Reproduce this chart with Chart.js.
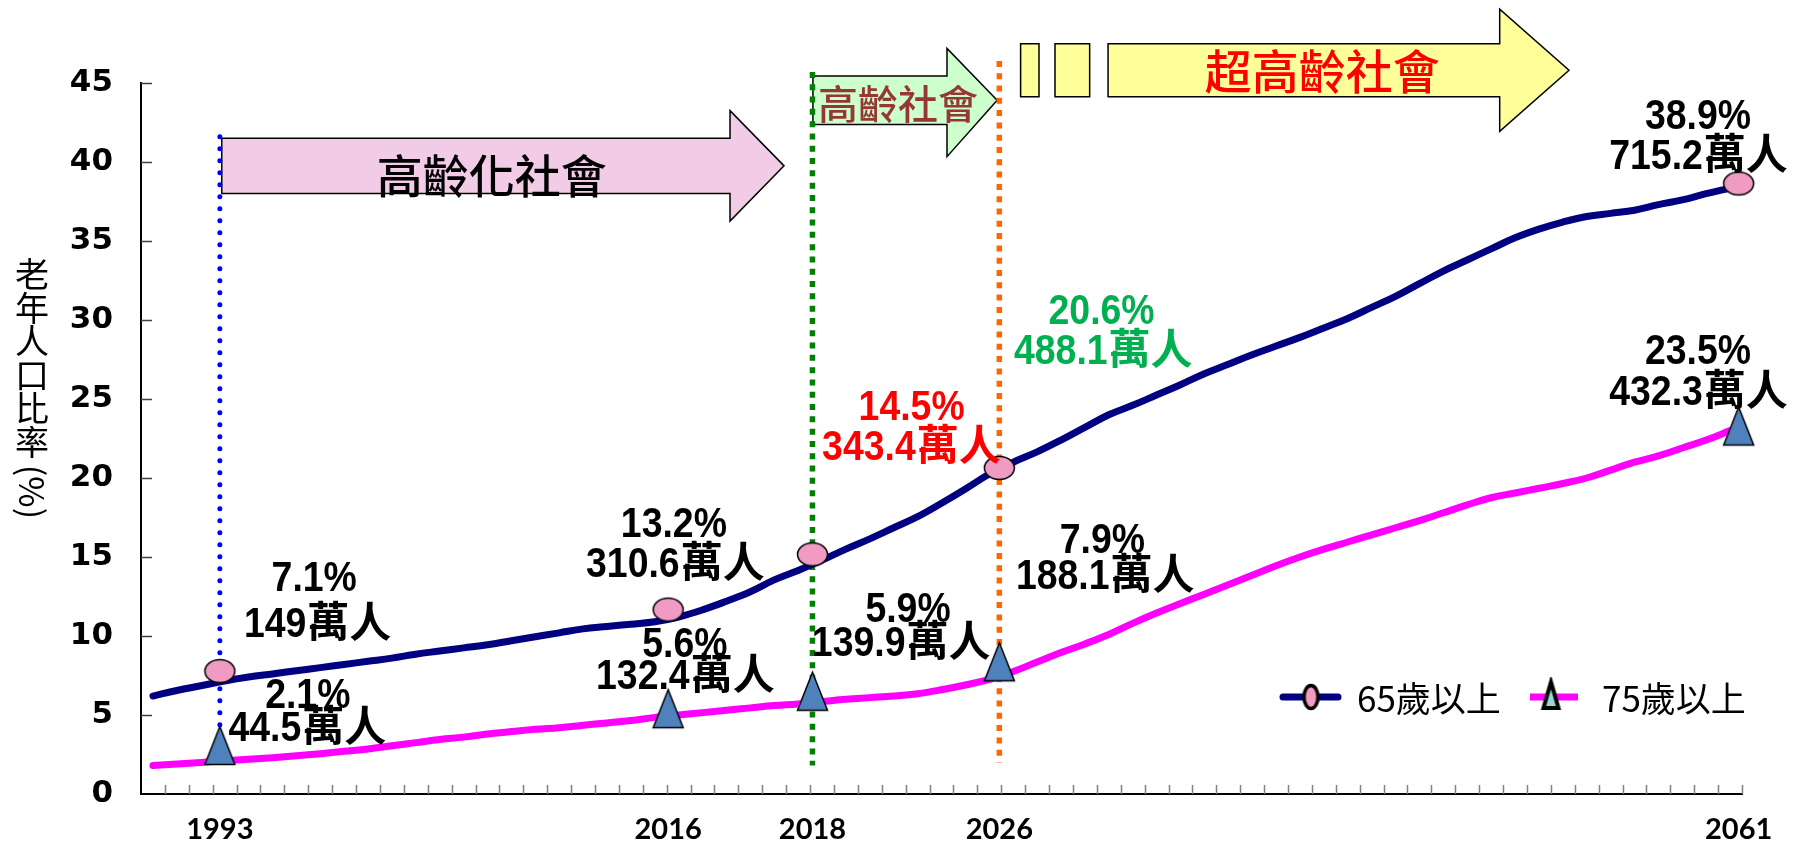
<!DOCTYPE html>
<html lang="zh-Hant">
<head>
<meta charset="utf-8">
<title>老年人口比率</title>
<script src="https://cdn.jsdelivr.net/npm/chart.js@4.4.1/dist/chart.umd.min.js"></script>
<style>
  html, body { margin: 0; padding: 0; background: #fff; }
  #wrap { width: 1806px; height: 844px; }
</style>
</head>
<body>
<div id="wrap"><canvas id="agingChart" width="1806" height="844"></canvas></div>
<script>
// 老年人口占總人口比率(%)，每個刻度格一個值
var share65 = [
  6.2, 6.55, 6.85, 7.15, 7.4, 7.6, 7.8, 8.0, 8.2, 8.4,
  8.6, 8.85, 9.05, 9.25, 9.45, 9.7, 9.95, 10.2, 10.45, 10.6,
  10.75, 10.9, 11.2, 11.65, 12.2, 12.8, 13.55, 14.15, 14.8, 15.5,
  16.15, 16.85, 17.55, 18.4, 19.3, 20.25, 21.0, 21.65, 22.4, 23.2,
  24.0, 24.6, 25.25, 25.9, 26.6, 27.2, 27.8, 28.35, 28.9, 29.5,
  30.1, 30.8, 31.5, 32.3, 33.1, 33.8, 34.5, 35.2, 35.75, 36.2,
  36.55, 36.75, 36.95, 37.3, 37.6, 38.0, 38.35
];
var share75 = [
  1.8, 1.9, 2.0, 2.1, 2.2, 2.3, 2.42, 2.55, 2.7, 2.85,
  3.05, 3.25, 3.45, 3.6, 3.8, 3.95, 4.1, 4.2, 4.35, 4.5,
  4.65, 4.85, 5.0, 5.15, 5.3, 5.45, 5.6, 5.7, 5.85, 6.0,
  6.1, 6.2, 6.35, 6.6, 6.9, 7.25, 7.75, 8.35, 8.95, 9.5,
  10.1, 10.8, 11.45, 12.05, 12.65, 13.25, 13.85, 14.45, 15.0, 15.5,
  15.95, 16.4, 16.85, 17.3, 17.8, 18.3, 18.75, 19.05, 19.35, 19.65,
  20.0, 20.5, 21.0, 21.4, 21.9, 22.4, 23.0
];

// 標示年份：在橫軸上的位置(刻度格)與標記高度
var markYears = ['1993', '2016', '2018', '2026', '2061'];
var markSlots = [3.3, 22.06, 28.1, 35.92, 66.86];
var mark65 = [7.78, 11.67, 15.17, 20.64, 38.64];
var mark75 = [3.07, 5.4, 6.5, 8.37, 23.29];

var seriesNames = ['65歲以上', '75歲以上'];
var slotCount = 67;

// 說明文字 (位置以軸的單位表示)
var callouts = [
  { slot: 7.25, val: 13.78, text: '7.1%' },
  { slot: 7.37, val: 10.9, text: '149萬人' },
  { slot: 6.98, val: 6.37, text: '2.1%' },
  { slot: 6.94, val: 4.28, text: '44.5萬人' },
  { slot: 22.3, val: 17.22, text: '13.2%' },
  { slot: 22.34, val: 14.69, text: '310.6萬人' },
  { slot: 22.76, val: 9.61, text: '5.6%' },
  { slot: 22.76, val: 7.61, text: '132.4萬人' },
  { slot: 32.25, val: 24.65, text: '14.5%', color: '#FF0000' },
  { slot: 32.22, val: 22.06, text: '343.4萬人', color: '#FF0000' },
  { slot: 32.1, val: 11.85, text: '5.9%' },
  { slot: 31.79, val: 9.66, text: '139.9萬人' },
  { slot: 40.2, val: 30.7, text: '20.6%', color: '#00B050' },
  { slot: 40.25, val: 28.19, text: '488.1萬人', color: '#00B050' },
  { slot: 40.23, val: 16.19, text: '7.9%' },
  { slot: 40.33, val: 13.93, text: '188.1萬人' },
  { slot: 65.16, val: 43.03, text: '38.9%' },
  { slot: 65.16, val: 40.51, text: '715.2萬人' },
  { slot: 65.16, val: 28.19, text: '23.5%' },
  { slot: 65.16, val: 25.6, text: '432.3萬人' }
];

// 階段箭頭
var phases = [
  { text: '高齡化社會', color: '#000000', fill: '#F2CCE6', size: 46,
    from: 3.38, base: 24.65, tip: 26.91, top: 41.51, bot: 38.0, headTop: 43.25, headBot: 36.26,
    textSlot: 14.68, textVal: 39.17, blocks: [] },
  { text: '高齡社會', color: '#953735', fill: '#CCFFCC', size: 40,
    from: 28.12, base: 33.73, tip: 35.83, top: 45.44, bot: 42.37, headTop: 47.19, headBot: 40.34,
    textSlot: 31.68, textVal: 43.69, blocks: [] },
  { text: '超高齡社會', color: '#FF0000', fill: '#FFFF99', size: 47,
    from: 40.47, base: 56.86, tip: 59.76, top: 47.48, bot: 44.13, headTop: 49.67, headBot: 41.94,
    textSlot: 49.43, textVal: 45.73, blocks: [[36.81, 37.58], [38.25, 39.7]] }
];

// 年份垂直虛線
var markerLines = [
  { slot: 3.3, from: 2.1, to: 41.6, color: '#0000FF', width: 5, dash: [0, 12], cap: 'round' },
  { slot: 28.1, from: 1.8, to: 45.7, color: '#008000', width: 5.5, dash: [6, 6.3], cap: 'butt' },
  { slot: 35.92, from: 2.0, to: 46.4, color: '#FF6600', width: 5.5, dash: [6, 6.3], cap: 'butt' }
];

function ellipseImg(w, h, fill, lw) {
  var c = document.createElement('canvas');
  c.width = Math.ceil(w + lw * 2 + 2);
  c.height = Math.ceil(h + lw * 2 + 2);
  var g = c.getContext('2d');
  g.beginPath();
  g.ellipse(c.width / 2, c.height / 2, w / 2, h / 2, 0, 0, Math.PI * 2);
  g.fillStyle = fill;
  g.fill();
  g.lineWidth = lw;
  g.strokeStyle = '#000';
  g.stroke();
  return c;
}

function triangleImg(w, h, fill, lw) {
  var c = document.createElement('canvas');
  c.width = Math.ceil(w + lw * 2 + 2);
  c.height = Math.ceil(h + lw * 2 + 2);
  var g = c.getContext('2d');
  var p = lw + 1;
  g.beginPath();
  g.moveTo(c.width / 2, p);
  g.lineTo(c.width - p, p + h);
  g.lineTo(p, p + h);
  g.closePath();
  g.fillStyle = fill;
  g.fill();
  g.lineWidth = lw;
  g.strokeStyle = '#000';
  g.stroke();
  return c;
}

var dotImg = ellipseImg(30, 23, '#EF9BC3', 1.5);
var triImg = triangleImg(30, 38, '#4F81BD', 1.5);
var legendDot = ellipseImg(14, 23, '#F49AC1', 3.5);
var legendTri = triangleImg(15, 26, '#9DD4D8', 4);

var numFont = 'bold 43px "Liberation Sans", sans-serif';
var numSqueeze = 0.87;
var cjkFont = 'bold 42px "Noto Sans CJK TC", sans-serif';

// 數字(壓窄)與中文分開字型，整段置中
function drawMixed(ctx, text, cx, cy) {
  var m = text.match(/^([0-9.%]*)(.*)$/);
  var a = m[1], b = m[2];
  ctx.font = numFont;
  var wa = ctx.measureText(a).width * numSqueeze;
  ctx.font = cjkFont;
  var wb = b ? ctx.measureText(b).width : 0;
  var x0 = cx - (wa + wb) / 2;
  ctx.textAlign = 'left';
  ctx.textBaseline = 'alphabetic';
  ctx.save();
  ctx.translate(x0, cy + 15);
  ctx.scale(numSqueeze, 1);
  ctx.font = numFont;
  ctx.fillText(a, 0, 0);
  ctx.restore();
  if (b) {
    ctx.font = cjkFont;
    ctx.fillText(b, x0 + wa + 1, cy + 15);
  }
}

var overlay = {
  id: 'overlay',
  beforeDatasetsDraw: function (chart) {
    var ctx = chart.ctx;
    var xs = chart.scales.x, ys = chart.scales.y;
    var area = chart.chartArea;
    var X = function (v) { return xs.getPixelForValue(v); };
    var Y = function (v) { return ys.getPixelForValue(v); };
    ctx.save();

    // inner tick marks
    ctx.lineWidth = 1.5;
    ctx.strokeStyle = '#7F7F7F';
    for (var i = 1; i <= slotCount; i++) {
      var tx = Math.round(X(i)) + 0.5;
      ctx.beginPath();
      ctx.moveTo(tx, area.bottom);
      ctx.lineTo(tx, area.bottom - 9);
      ctx.stroke();
    }
    ctx.strokeStyle = '#404040';
    ys.ticks.forEach(function (t) {
      if (t.value === 0) return;
      var ty = Math.round(Y(t.value)) + 0.5;
      ctx.beginPath();
      ctx.moveTo(area.left, ty);
      ctx.lineTo(area.left + 11, ty);
      ctx.stroke();
    });

    // phase arrows
    phases.forEach(function (p) {
      ctx.lineWidth = 1.5;
      ctx.strokeStyle = '#000';
      ctx.fillStyle = p.fill;
      p.blocks.forEach(function (b) {
        ctx.beginPath();
        ctx.rect(X(b[0]), Y(p.top), X(b[1]) - X(b[0]), Y(p.bot) - Y(p.top));
        ctx.fill();
        ctx.stroke();
      });
      var mid = (Y(p.top) + Y(p.bot)) / 2;
      ctx.beginPath();
      ctx.moveTo(X(p.from), Y(p.top));
      ctx.lineTo(X(p.base), Y(p.top));
      ctx.lineTo(X(p.base), Y(p.headTop));
      ctx.lineTo(X(p.tip), mid);
      ctx.lineTo(X(p.base), Y(p.headBot));
      ctx.lineTo(X(p.base), Y(p.bot));
      ctx.lineTo(X(p.from), Y(p.bot));
      ctx.closePath();
      ctx.fill();
      ctx.stroke();
      ctx.fillStyle = p.color;
      ctx.font = '500 ' + p.size + 'px "Noto Sans CJK TC"';
      ctx.textAlign = 'center';
      ctx.textBaseline = 'middle';
      ctx.fillText(p.text, X(p.textSlot), Y(p.textVal));
    });

    // year marker lines
    markerLines.forEach(function (m) {
      ctx.beginPath();
      ctx.setLineDash(m.dash);
      ctx.lineCap = m.cap;
      ctx.lineWidth = m.width;
      ctx.strokeStyle = m.color;
      ctx.moveTo(X(m.slot), Y(m.to));
      ctx.lineTo(X(m.slot), Y(m.from));
      ctx.stroke();
    });
    ctx.restore();
  },
  afterDatasetsDraw: function (chart) {
    var ctx = chart.ctx;
    var xs = chart.scales.x, ys = chart.scales.y;
    ctx.save();
    callouts.forEach(function (c) {
      ctx.fillStyle = c.color || '#000';
      drawMixed(ctx, c.text, xs.getPixelForValue(c.slot), ys.getPixelForValue(c.val));
    });

    // y axis title, stacked characters
    ctx.fillStyle = '#000';
    ctx.textAlign = 'center';
    ctx.textBaseline = 'middle';
    ctx.font = '34px "Noto Sans CJK TC", sans-serif';
    var chars = ['老', '年', '人', '口', '比', '率'];
    chars.forEach(function (ch, i) {
      ctx.fillText(ch, 32, 274 + i * 33.6);
    });
    ctx.save();
    ctx.translate(32, 492);
    ctx.rotate(Math.PI / 2);
    ctx.fillText('(%)', 0, 0);
    ctx.restore();

    // legend
    var ly = 697;
    ctx.lineCap = 'round';
    ctx.lineWidth = 7;
    ctx.strokeStyle = '#000080';
    ctx.beginPath(); ctx.moveTo(1283, ly); ctx.lineTo(1338, ly); ctx.stroke();
    ctx.drawImage(legendDot, 1311 - legendDot.width / 2, ly - legendDot.height / 2);
    ctx.strokeStyle = '#FF00FF';
    ctx.lineCap = 'butt';
    ctx.beginPath(); ctx.moveTo(1530, ly); ctx.lineTo(1578, ly); ctx.stroke();
    ctx.drawImage(legendTri, 1551 - legendTri.width / 2, ly - 2 - legendTri.height / 2);
    ctx.font = '35px "Noto Sans CJK TC", sans-serif';
    ctx.textAlign = 'left';
    ctx.fillText(seriesNames[0], 1357, ly + 2);
    ctx.fillText(seriesNames[1], 1602, ly + 2);
    ctx.restore();
  }
};

var lineData = function (arr) {
  return arr.map(function (v, i) { return { x: i + 0.5, y: v }; });
};
var markData = function (arr) {
  return arr.map(function (v, i) { return { x: markSlots[i], y: v }; });
};

var ctx = document.getElementById('agingChart').getContext('2d');
var agingChart = new Chart(ctx, {
  type: 'line',
  data: {
    datasets: [{
      label: seriesNames[0],
      data: lineData(share65),
      borderColor: '#000080',
      borderWidth: 7,
      borderCapStyle: 'round',
      tension: 0.4,
      pointRadius: 0,
      order: 3
    }, {
      label: seriesNames[1],
      data: lineData(share75),
      borderColor: '#FF00FF',
      borderWidth: 7,
      borderCapStyle: 'round',
      tension: 0.4,
      pointRadius: 0,
      order: 2
    }, {
      label: seriesNames[0] + ' 標記',
      data: markData(mark65),
      showLine: false,
      pointStyle: dotImg,
      pointRadius: 15,
      clip: false,
      order: 1
    }, {
      label: seriesNames[1] + ' 標記',
      data: markData(mark75),
      showLine: false,
      pointStyle: triImg,
      pointRadius: 19,
      clip: false,
      order: 0
    }]
  },
  options: {
    responsive: false,
    animation: false,
    layout: { padding: { top: 83, right: 64, left: 0, bottom: 0 } },
    scales: {
      x: {
        type: 'linear',
        min: 0,
        max: slotCount,
        afterBuildTicks: function (axis) {
          axis.ticks = markSlots.map(function (v) { return { value: v }; });
        },
        afterFit: function (s) { s.height = 50; },
        grid: { display: false, drawTicks: false },
        border: { display: true, color: '#000', width: 2 },
        ticks: {
          autoSkip: false,
          maxRotation: 0,
          padding: 18,
          color: '#000',
          font: { family: 'Lato', weight: 'bold', size: 29 },
          callback: function (v, i) { return markYears[i]; }
        }
      },
      y: {
        min: 0,
        max: 45,
        afterFit: function (s) { s.width = 141; },
        grid: { display: false, drawTicks: false },
        border: { display: true, color: '#000', width: 2 },
        ticks: {
          stepSize: 5,
          padding: 28,
          color: '#000',
          font: { family: 'DejaVu Sans', weight: 'bold', size: 31 }
        }
      }
    },
    plugins: {
      legend: { display: false },
      tooltip: { enabled: false }
    }
  },
  plugins: [overlay]
});
</script>
</body>
</html>
